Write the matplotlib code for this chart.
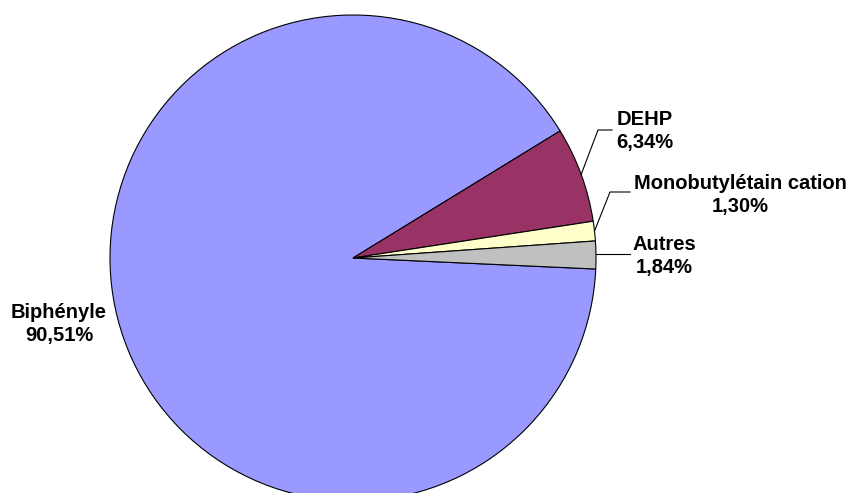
import numpy as np
import matplotlib.pyplot as plt

# Data
categories = ["Biphényle", "DEHP", "Monobutylétain cation", "Autres"]
values = [90.51, 6.34, 1.30, 1.84]
value_labels = ["90,51%", "6,34%", "1,30%", "1,84%"]
colors = ["#9999FF", "#993366", "#FFFFCC", "#C0C0C0"]

W, H = 851, 493
fig = plt.figure(figsize=(W / 100, H / 100), dpi=100)
ax = fig.add_axes([0, 0, 1, 1])

cx, cy, r = 353, H - 258, 243
start = -2.6
wedges, _ = ax.pie(values, colors=colors, startangle=start, counterclock=False,
                   center=(cx, cy), radius=r, frame=True,
                   wedgeprops=dict(edgecolor="black", linewidth=0.8))
ax.set_xlim(0, W)
ax.set_ylim(0, H)
ax.set_aspect("equal")
ax.axis("off")

font = dict(family=["Liberation Sans", "DejaVu Sans"], fontweight="bold",
            fontsize=14.5, color="black", ha="center", va="center",
            multialignment="center", linespacing=1.22)

# label layout: (elbow point, line end, text centre) in pixel coords (y down)
layout = {
    1: ((598, 130), (612, 130), (645, 131)),
    2: ((610, 192), (630, 192), (740, 195)),
    3: (None, (630, 254), (664, 256)),
}

for i, w in enumerate(wedges):
    txt = f"{categories[i]}\n{value_labels[i]}"
    if i == 0:
        ax.text(59, H - 324, txt, **font)
        continue
    mid = np.radians((w.theta1 + w.theta2) / 2)
    x0, y0 = cx + r * np.cos(mid), cy + r * np.sin(mid)
    elbow, end, tc = layout[i]
    xs, ys = [x0], [y0]
    if elbow is not None:
        xs.append(elbow[0]); ys.append(H - elbow[1])
    else:
        ys[0] = H - end[1]
    xs.append(end[0]); ys.append(H - end[1])
    ax.plot(xs, ys, color="black", linewidth=0.8)
    ax.text(tc[0], H - tc[1], txt, **font)

fig.savefig("out.png", dpi=100)
